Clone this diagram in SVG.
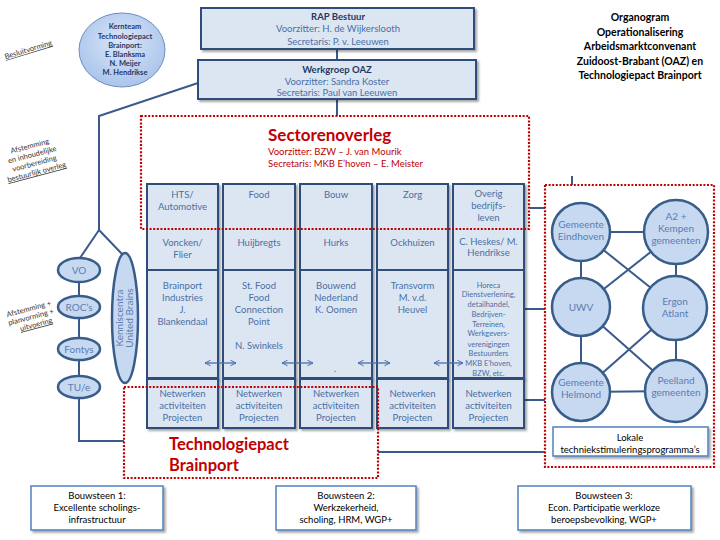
<svg xmlns="http://www.w3.org/2000/svg" width="720" height="540" viewBox="0 0 720 540">
<defs>
<style>
text{font-family:Lato,"Liberation Sans",sans-serif}
.box{fill:#DCE6F2;stroke:#2F4E7A;stroke-width:2}
.wbox{fill:#ffffff;stroke:#4F81BD;stroke-width:1.5}
.circ{fill:#C6D9F1;stroke:#385D8A;stroke-width:2.5}
.t{font-size:9.5px;fill:#4A6FA5;text-anchor:middle}
.ts{font-size:7.5px;fill:#4A6FA5;text-anchor:middle}
.tb{font-size:9.5px;fill:#1F3864;text-anchor:middle;font-weight:bold}
.tk{font-size:9.5px;fill:#000;text-anchor:middle}
.tc{font-size:10px;fill:#5B7DB1;text-anchor:middle}
.note{font-size:7.5px;fill:#333;text-anchor:middle}
.red{fill:none;stroke:#C00000;stroke-width:2.2;stroke-dasharray:2 1.6}
.con{fill:none;stroke:#3A5A8C;stroke-width:2}
.arr{fill:none;stroke:#4A6FA5;stroke-width:1.3;marker-start:url(#ah);marker-end:url(#ah)}
</style>
<marker id="ah" viewBox="0 0 10 10" refX="9" refY="5" markerWidth="7" markerHeight="7" orient="auto-start-reverse" markerUnits="userSpaceOnUse">
<path d="M1,1 L9,5 L1,9" fill="none" stroke="#4A6FA5" stroke-width="1.4"/>
</marker>
<filter id="sh" x="-10%" y="-10%" width="130%" height="130%">
<feDropShadow dx="2" dy="2" stdDeviation="1.2" flood-color="#000" flood-opacity="0.35"/>
</filter>
<radialGradient id="kg" cx="0.5" cy="0.4" r="0.6">
<stop offset="0" stop-color="#DCE6F9"/>
<stop offset="1" stop-color="#A9C4EB"/>
</radialGradient>
</defs>
<rect width="720" height="540" fill="#ffffff"/>

<!-- connectors -->
<g id="connectors">
<line class="con" x1="337" y1="49" x2="337" y2="60"/>
<line class="con" x1="337" y1="99" x2="337" y2="116"/>
<polyline class="con" points="198,83 99,116 99,230"/>
<line class="con" x1="99" y1="230" x2="80" y2="258"/>
<line class="con" x1="99" y1="230" x2="122" y2="254"/>
<line class="con" x1="79" y1="282" x2="79" y2="296"/>
<line class="con" x1="79" y1="318" x2="79" y2="338"/>
<line class="con" x1="79" y1="360" x2="79" y2="377"/>
<polyline class="con" points="79,398 79,441 124,441"/>
<line class="con" x1="530" y1="208" x2="545" y2="208"/>
<line class="con" x1="524" y1="309" x2="545" y2="309"/>
<line class="con" x1="524" y1="400" x2="545" y2="400"/>
<line class="con" x1="378" y1="452" x2="545" y2="452"/>
<line class="con" x1="572" y1="176" x2="572" y2="185"/>
<!-- network lines -->
<line class="con" x1="581" y1="232" x2="676" y2="232"/>
<line class="con" x1="581" y1="232" x2="581" y2="307"/>
<line class="con" x1="676" y1="232" x2="676" y2="308"/>
<line class="con" x1="581" y1="232" x2="676" y2="308"/>
<line class="con" x1="581" y1="307" x2="676" y2="232"/>
<line class="con" x1="581" y1="307" x2="581" y2="392"/>
<line class="con" x1="676" y1="308" x2="676" y2="391"/>
<line class="con" x1="581" y1="307" x2="676" y2="391"/>
<line class="con" x1="676" y1="308" x2="581" y2="392"/>
<line class="con" x1="581" y1="392" x2="676" y2="391"/>
</g>

<!-- annotations -->
<g id="notes">
<text class="note" transform="translate(29,52) rotate(-17)" text-decoration="underline" x="0" y="0">Besluitvorming</text>
<g transform="translate(34,162) rotate(-15)">
<text class="note" x="0" y="-14">Afstemming</text>
<text class="note" x="0" y="-5">en inhoudelijke</text>
<text class="note" x="0" y="4">voorbereiding</text>
<text class="note" x="0" y="13" text-decoration="underline">bestuurlijk overleg</text>
</g>
<g transform="translate(31,317) rotate(-15)">
<text class="note" x="0" y="-6">Afstemming +</text>
<text class="note" x="0" y="2.5">planvorming +</text>
<text class="note" x="3" y="11" text-decoration="underline">uitvoering</text>
</g>
</g>

<!-- title -->
<g id="title" font-weight="bold" font-size="10.5" fill="#000" text-anchor="middle">
<text x="640" y="21">Organogram</text>
<text x="640" y="35.5">Operationalisering</text>
<text x="640" y="50">Arbeidsmarktconvenant</text>
<text x="640" y="64.5">Zuidoost-Brabant (OAZ) en</text>
<text x="640" y="79">Technologiepact Brainport</text>
</g>

<!-- Kernteam -->
<g id="kernteam">
<ellipse cx="122" cy="50" rx="43" ry="37" fill="url(#kg)" stroke="#6C8EBF" stroke-width="1"/>
<g font-size="7.5" font-weight="bold" fill="#1F3864" text-anchor="middle">
<text x="125" y="29">Kernteam</text>
<text x="125" y="38.5">Technologiepact</text>
<text x="125" y="47.5">Brainport:</text>
<text x="125" y="56.5">E.  Blanksma</text>
<text x="125" y="66">N. Meijer</text>
<text x="125" y="75">M. Hendrikse</text>
</g>
</g>

<!-- RAP -->
<g id="rap">
<rect class="box" x="201" y="8" width="273" height="41" filter="url(#sh)"/>
<text class="tb" x="338" y="20">RAP Bestuur</text>
<text class="t" x="338" y="32">Voorzitter: H. de Wijkerslooth</text>
<text class="t" x="338" y="45">Secretaris: P. v. Leeuwen</text>
</g>
<g id="werkgroep">
<rect class="box" x="198" y="60" width="278" height="39" filter="url(#sh)"/>
<text class="tb" x="337" y="73">Werkgroep OAZ</text>
<text class="t" x="337" y="84.5">Voorzitter: Sandra Koster</text>
<text class="t" x="337" y="96">Secretaris: Paul van Leeuwen</text>
</g>

<!-- Sectorenoverleg -->
<g id="sectorenoverleg">
<text x="268" y="141" font-size="17" font-weight="bold" fill="#C00000">Sectorenoverleg</text>
<text x="268" y="155" font-size="9.5" fill="#C00000">Voorzitter: BZW – J. van Mourik</text>
<text x="268" y="167" font-size="9.5" fill="#C00000">Secretaris: MKB E’hoven – E. Meister</text>
</g>

<!-- columns -->
<g id="col1">
<rect class="box" x="147" y="184" width="71" height="194" filter="url(#sh)"/>
<line x1="147" y1="270" x2="218" y2="270" stroke="#2F4E7A" stroke-width="2"/>
<text class="t" x="182.5" y="198">HTS/</text>
<text class="t" x="182.5" y="210">Automotive</text>
<text class="t" x="182.5" y="246">Voncken/</text>
<text class="t" x="182.5" y="258">Flier</text>
<text class="t" x="182.5" y="289">Brainport</text>
<text class="t" x="182.5" y="301">Industries</text>
<text class="t" x="182.5" y="313">J.</text>
<text class="t" x="182.5" y="325">Blankendaal</text>
</g>
<g id="col2">
<rect class="box" x="223" y="184" width="72" height="194" filter="url(#sh)"/>
<line x1="223" y1="270" x2="295" y2="270" stroke="#2F4E7A" stroke-width="2"/>
<text class="t" x="259" y="198">Food</text>
<text class="t" x="259" y="246">Huijbregts</text>
<text class="t" x="259" y="289">St. Food</text>
<text class="t" x="259" y="301">Food</text>
<text class="t" x="259" y="313">Connection</text>
<text class="t" x="259" y="325">Point</text>
<text class="t" x="259" y="349">N. Swinkels</text>
</g>
<g id="col3">
<rect class="box" x="300" y="184" width="72" height="194" filter="url(#sh)"/>
<line x1="300" y1="270" x2="372" y2="270" stroke="#2F4E7A" stroke-width="2"/>
<text class="t" x="336" y="198">Bouw</text>
<text class="t" x="336" y="246">Hurks</text>
<text class="t" x="336" y="289">Bouwend</text>
<text class="t" x="336" y="301">Nederland</text>
<text class="t" x="336" y="313">K. Oomen</text>
<text class="t" x="335" y="372" font-size="7">.</text>
</g>
<g id="col4">
<rect class="box" x="377" y="184" width="71" height="194" filter="url(#sh)"/>
<line x1="377" y1="270" x2="448" y2="270" stroke="#2F4E7A" stroke-width="2"/>
<text class="t" x="412.5" y="198">Zorg</text>
<text class="t" x="412.5" y="246">Ockhuizen</text>
<text class="t" x="412.5" y="289">Transvorm</text>
<text class="t" x="412.5" y="301">M. v.d.</text>
<text class="t" x="412.5" y="313">Heuvel</text>
</g>
<g id="col5">
<rect class="box" x="453" y="184" width="71" height="194" filter="url(#sh)"/>
<line x1="453" y1="270" x2="524" y2="270" stroke="#2F4E7A" stroke-width="2"/>
<text class="t" x="488.5" y="197">Overig</text>
<text class="t" x="488.5" y="209">bedrijfs-</text>
<text class="t" x="488.5" y="221">leven</text>
<text class="t" x="488.5" y="245" font-size="8.5">C. Heskes/ M.</text>
<text class="t" x="488.5" y="256" font-size="8.5">Hendrikse</text>
<text class="ts" x="488.5" y="288">Horeca</text>
<text class="ts" x="488.5" y="297">Dienstverlening,</text>
<text class="ts" x="488.5" y="307">detailhandel,</text>
<text class="ts" x="488.5" y="317">Bedrijven-</text>
<text class="ts" x="488.5" y="326.5">Terreinen,</text>
<text class="ts" x="488.5" y="336">Werkgevers-</text>
<text class="ts" x="488.5" y="346.5">verenigingen</text>
<text class="ts" x="488.5" y="356">Bestuurders</text>
<text class="ts" x="488.5" y="366">MKB E’hoven,</text>
<text class="ts" x="488.5" y="375.5">BZW, etc.</text>
</g>

<!-- Netwerken boxes -->
<g id="net1">
<rect class="box" x="147" y="379" width="71" height="49" filter="url(#sh)"/>
<text class="t" x="182.5" y="397">Netwerken</text><text class="t" x="182.5" y="409">activiteiten</text><text class="t" x="182.5" y="421">Projecten</text>
</g>
<g id="net2">
<rect class="box" x="223" y="379" width="72" height="49" filter="url(#sh)"/>
<text class="t" x="259" y="397">Netwerken</text><text class="t" x="259" y="409">activiteiten</text><text class="t" x="259" y="421">Projecten</text>
</g>
<g id="net3">
<rect class="box" x="300" y="379" width="72" height="49" filter="url(#sh)"/>
<text class="t" x="336" y="397">Netwerken</text><text class="t" x="336" y="409">activiteiten</text><text class="t" x="336" y="421">Projecten</text>
</g>
<g id="net4">
<rect class="box" x="377" y="379" width="71" height="49" filter="url(#sh)"/>
<text class="t" x="412.5" y="397">Netwerken</text><text class="t" x="412.5" y="409">activiteiten</text><text class="t" x="412.5" y="421">Projecten</text>
</g>
<g id="net5">
<rect class="box" x="453" y="379" width="71" height="49" filter="url(#sh)"/>
<text class="t" x="488.5" y="397">Netwerken</text><text class="t" x="488.5" y="409">activiteiten</text><text class="t" x="488.5" y="421">Projecten</text>
</g>

<!-- double arrows -->
<g id="arrows">
<line class="arr" x1="205" y1="363" x2="236" y2="363"/>
<line class="arr" x1="282" y1="363" x2="313" y2="363"/>
<line class="arr" x1="358" y1="363" x2="390" y2="363"/>
<line class="arr" x1="434" y1="363" x2="463" y2="363"/>
</g>

<!-- red dotted frames -->
<g id="frames">
<rect class="red" x="141" y="116" width="388" height="113"/>
<rect class="red" x="124" y="387" width="254" height="91"/>
<rect class="red" x="545" y="185" width="169" height="282"/>
</g>
<g id="techpact">
<text x="169" y="450" font-size="16.5" font-weight="bold" fill="#C00000">Technologiepact</text>
<text x="169" y="471" font-size="16.5" font-weight="bold" fill="#C00000">Brainport</text>
</g>

<!-- left ellipses -->
<g id="vo"><ellipse class="circ" cx="79" cy="270" rx="21" ry="12"/><text class="tc" x="79" y="274">VO</text></g>
<g id="rocs"><ellipse class="circ" cx="79" cy="307" rx="21" ry="11"/><text class="tc" x="79" y="311">ROC’s</text></g>
<g id="fontys"><ellipse class="circ" cx="79" cy="349" rx="21" ry="11"/><text class="tc" x="79" y="353">Fontys</text></g>
<g id="tue"><ellipse class="circ" cx="79" cy="387" rx="21" ry="11"/><text class="tc" x="79" y="391">TU/e</text></g>
<g id="kenniscentra">
<ellipse class="circ" cx="125" cy="318" rx="13" ry="65"/>
<g transform="translate(125,318) rotate(-90)">
<text class="tc" x="0" y="-2" font-size="9">Kenniscentra</text>
<text class="tc" x="0" y="8" font-size="9">United Brains</text>
</g>
</g>

<!-- right circles -->
<g id="eindhoven"><circle class="circ" cx="581" cy="232" r="29"/><text class="tc" x="581" y="228">Gemeente</text><text class="tc" x="581" y="240">Eindhoven</text></g>
<g id="a2"><circle class="circ" cx="676" cy="232" r="32"/><text class="tc" x="676" y="220">A2 +</text><text class="tc" x="676" y="232">Kempen</text><text class="tc" x="676" y="244">gemeenten</text></g>
<g id="uwv"><circle class="circ" cx="581" cy="307" r="29"/><text class="tc" x="581" y="311">UWV</text></g>
<g id="ergon"><circle class="circ" cx="675" cy="308" r="32"/><text class="tc" x="675" y="305">Ergon</text><text class="tc" x="675" y="317">Atlant</text></g>
<g id="helmond"><circle class="circ" cx="581" cy="392" r="29"/><text class="tc" x="581" y="386">Gemeente</text><text class="tc" x="581" y="398">Helmond</text></g>
<g id="peelland"><circle class="circ" cx="676" cy="391" r="31"/><text class="tc" x="676" y="384">Peelland</text><text class="tc" x="676" y="396">gemeenten</text></g>

<g id="lokale">
<rect class="wbox" x="553" y="427" width="155" height="29" filter="url(#sh)"/>
<text class="tk" x="630" y="441">Lokale</text>
<text class="tk" x="630" y="453">techniekstimuleringsprogramma’s</text>
</g>

<!-- bouwstenen -->
<g id="bouwsteen1">
<rect class="wbox" x="31" y="486" width="132" height="44" filter="url(#sh)"/>
<text class="tk" x="97" y="499">Bouwsteen 1:</text>
<text class="tk" x="97" y="511">Excellente scholings-</text>
<text class="tk" x="97" y="523">infrastructuur</text>
</g>
<g id="bouwsteen2">
<rect class="wbox" x="276" y="486" width="140" height="44" filter="url(#sh)"/>
<text class="tk" x="346" y="499">Bouwsteen 2:</text>
<text class="tk" x="346" y="511">Werkzekerheid,</text>
<text class="tk" x="346" y="523">scholing, HRM, WGP+</text>
</g>
<g id="bouwsteen3">
<rect class="wbox" x="518" y="486" width="173" height="44" filter="url(#sh)"/>
<text class="tk" x="604" y="499">Bouwsteen 3:</text>
<text class="tk" x="604" y="511">Econ. Participatie  werkloze</text>
<text class="tk" x="604" y="523">beroepsbevolking, WGP+</text>
</g>
</svg>
